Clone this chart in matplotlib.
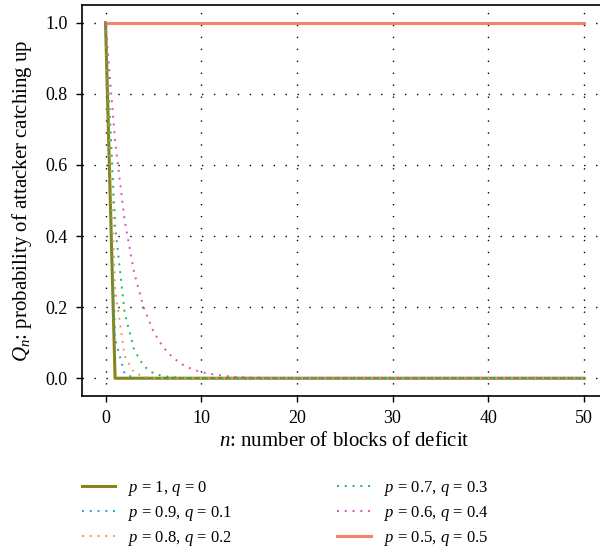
import matplotlib
matplotlib.use("Agg")
import matplotlib.pyplot as plt

plt.rcParams['font.family'] = ['Liberation Serif', 'DejaVu Serif']
plt.rcParams['mathtext.fontset'] = 'custom'
plt.rcParams['mathtext.rm'] = 'Liberation Serif'
plt.rcParams['mathtext.it'] = 'Liberation Serif:italic'

n = list(range(51))

q_p10 = [1.0, 0.0, 0.0, 0.0, 0.0, 0.0, 0.0, 0.0, 0.0, 0.0,
         0.0, 0.0, 0.0, 0.0, 0.0, 0.0, 0.0, 0.0, 0.0, 0.0,
         0.0, 0.0, 0.0, 0.0, 0.0, 0.0, 0.0, 0.0, 0.0, 0.0,
         0.0, 0.0, 0.0, 0.0, 0.0, 0.0, 0.0, 0.0, 0.0, 0.0,
         0.0, 0.0, 0.0, 0.0, 0.0, 0.0, 0.0, 0.0, 0.0, 0.0, 0.0]
q_p09 = [1.0, 0.111, 0.012, 0.001, 0.0, 0.0, 0.0, 0.0, 0.0, 0.0,
         0.0, 0.0, 0.0, 0.0, 0.0, 0.0, 0.0, 0.0, 0.0, 0.0,
         0.0, 0.0, 0.0, 0.0, 0.0, 0.0, 0.0, 0.0, 0.0, 0.0,
         0.0, 0.0, 0.0, 0.0, 0.0, 0.0, 0.0, 0.0, 0.0, 0.0,
         0.0, 0.0, 0.0, 0.0, 0.0, 0.0, 0.0, 0.0, 0.0, 0.0, 0.0]
q_p08 = [1.0, 0.25, 0.062, 0.016, 0.004, 0.001, 0.0, 0.0, 0.0, 0.0,
         0.0, 0.0, 0.0, 0.0, 0.0, 0.0, 0.0, 0.0, 0.0, 0.0,
         0.0, 0.0, 0.0, 0.0, 0.0, 0.0, 0.0, 0.0, 0.0, 0.0,
         0.0, 0.0, 0.0, 0.0, 0.0, 0.0, 0.0, 0.0, 0.0, 0.0,
         0.0, 0.0, 0.0, 0.0, 0.0, 0.0, 0.0, 0.0, 0.0, 0.0, 0.0]
q_p07 = [1.0, 0.429, 0.184, 0.079, 0.034, 0.014, 0.006, 0.003, 0.001, 0.0,
         0.0, 0.0, 0.0, 0.0, 0.0, 0.0, 0.0, 0.0, 0.0, 0.0,
         0.0, 0.0, 0.0, 0.0, 0.0, 0.0, 0.0, 0.0, 0.0, 0.0,
         0.0, 0.0, 0.0, 0.0, 0.0, 0.0, 0.0, 0.0, 0.0, 0.0,
         0.0, 0.0, 0.0, 0.0, 0.0, 0.0, 0.0, 0.0, 0.0, 0.0, 0.0]
q_p06 = [1.0, 0.667, 0.444, 0.296, 0.198, 0.132, 0.088, 0.059, 0.039, 0.026,
         0.017, 0.012, 0.008, 0.005, 0.003, 0.002, 0.002, 0.001, 0.001, 0.0,
         0.0, 0.0, 0.0, 0.0, 0.0, 0.0, 0.0, 0.0, 0.0, 0.0,
         0.0, 0.0, 0.0, 0.0, 0.0, 0.0, 0.0, 0.0, 0.0, 0.0,
         0.0, 0.0, 0.0, 0.0, 0.0, 0.0, 0.0, 0.0, 0.0, 0.0, 0.0]
q_p05 = [1.0, 1.0, 1.0, 1.0, 1.0, 1.0, 1.0, 1.0, 1.0, 1.0,
         1.0, 1.0, 1.0, 1.0, 1.0, 1.0, 1.0, 1.0, 1.0, 1.0,
         1.0, 1.0, 1.0, 1.0, 1.0, 1.0, 1.0, 1.0, 1.0, 1.0,
         1.0, 1.0, 1.0, 1.0, 1.0, 1.0, 1.0, 1.0, 1.0, 1.0,
         1.0, 1.0, 1.0, 1.0, 1.0, 1.0, 1.0, 1.0, 1.0, 1.0, 1.0]

labels = ['$p$ = 1, $q$ = 0', '$p$ = 0.9, $q$ = 0.1', '$p$ = 0.8, $q$ = 0.2',
          '$p$ = 0.7, $q$ = 0.3', '$p$ = 0.6, $q$ = 0.4', '$p$ = 0.5, $q$ = 0.5']
x_ticks = [0, 10, 20, 30, 40, 50]
y_ticks = [0.0, 0.2, 0.4, 0.6, 0.8, 1.0]

fig = plt.figure(figsize=(6, 5.5), dpi=100)
ax = fig.add_axes([0.136, 0.28, 0.877, 0.711])

dot = (0, (1, 3))
h1, = ax.plot(n, q_p10, color='#868614', lw=2.2, zorder=3)
h6, = ax.plot(n, q_p05, color='#f4826f', lw=2.2, zorder=3)
h2, = ax.plot(n, q_p09, color='#1aa3dc', lw=1.4, ls=dot, zorder=4)
h3, = ax.plot(n, q_p08, color='#f59a48', lw=1.4, ls=dot, zorder=4)
h4, = ax.plot(n, q_p07, color='#1bb85c', lw=1.4, ls=dot, zorder=4)
h5, = ax.plot(n, q_p06, color='#e050b8', lw=1.4, ls=dot, zorder=4)

ax.set_xlim(-2.5, 52.5)
ax.set_ylim(-0.05, 1.05)
ax.set_xticks(x_ticks)
ax.set_yticks(y_ticks)
ax.set_yticklabels([f'{v:.1f}' for v in y_ticks])
ax.grid(True, color='black', ls=(0, (1, 7.6)), lw=1.0)
ax.spines['right'].set_visible(False)
for s in ['left', 'bottom', 'top']:
    ax.spines[s].set_linewidth(1.2)
ax.tick_params(labelsize=13, direction='out', length=4, width=1, top=False, pad=6)

ax.set_xlabel('$n$: number of blocks of deficit', fontsize=15, labelpad=4)
ax.set_ylabel('$Q_n$: probability of attacker catching up', fontsize=15, labelpad=8)

fig.legend([h1, h2, h3, h4, h5, h6], labels, loc='upper left',
           bbox_to_anchor=(0.122, 0.145), ncol=2, frameon=False, fontsize=12,
           handlelength=2.0, handletextpad=0.8, columnspacing=6.3,
           labelspacing=0.36, borderpad=0)

fig.savefig('out.png', dpi=100)
